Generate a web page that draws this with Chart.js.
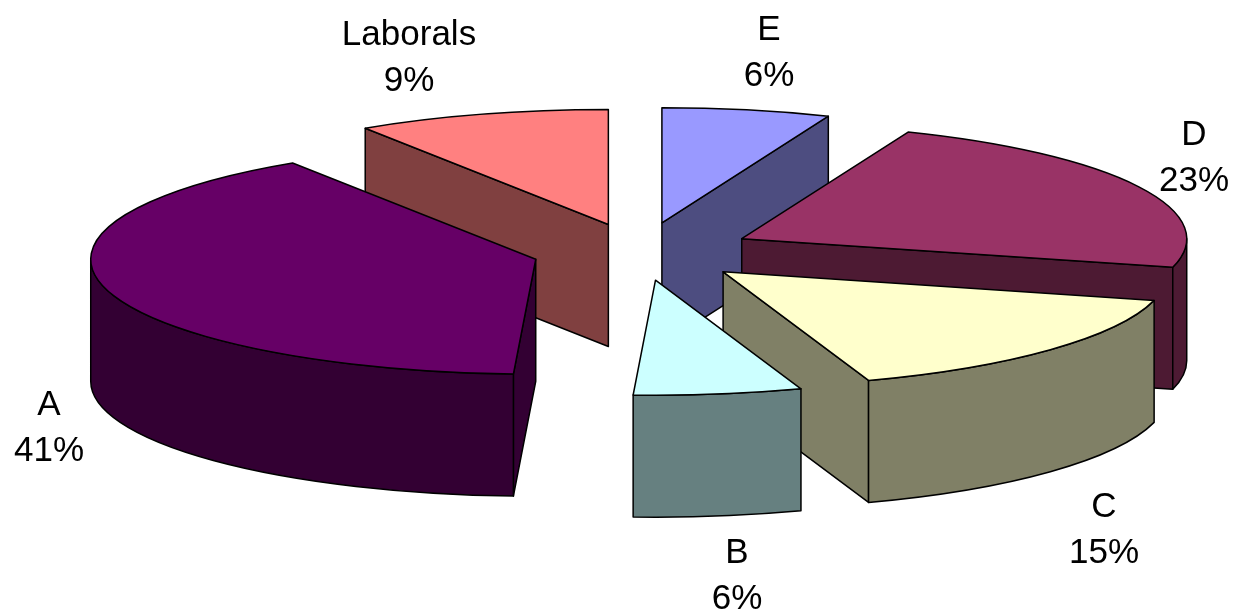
<!DOCTYPE html>
<html>
<head>
<meta charset="utf-8">
<script src="https://cdn.jsdelivr.net/npm/chart.js@4/dist/chart.umd.js"></script>
<style>
  html, body { margin: 0; padding: 0; background: #fff; }
  canvas { display: block; }
</style>
</head>
<body>
<canvas id="graph1" width="1236" height="616"></canvas>
<script>
// slices run clockwise from 12 o'clock, sizes as measured on the picture
const labels = ["E", "D", "C", "B", "A", "Laborals"];
const values = [6.1, 22.9, 15.7, 6.1, 40.0, 9.2];
const pct_labels = ["6%", "23%", "15%", "6%", "41%", "9%"];
const top_colors = ["#9999FF", "#993366", "#FFFFCC", "#CCFFFF", "#660066", "#FF8080"];
const wall_colors = ["#4D4D80", "#4D1A33", "#808066", "#668080", "#330033", "#804040"];
const explode = [115, 114, 113, 110, 108, 111];
const label_pos = [[769, 53], [1194, 158], [1104, 530], [737, 576], [49, 428], [409, 58]];

const squash = 0.2584;
const depth = 122;

function rim(ctx, cx, cy, r, from, to, ccw) {
  ctx.ellipse(cx, cy, r, r * squash, 0, from, to, ccw);
}

function wall_side(ctx, ax, ay, r, ang, color) {
  const px = ax + Math.cos(ang) * r;
  const py = ay + Math.sin(ang) * r * squash;
  ctx.beginPath();
  ctx.moveTo(ax, ay);
  ctx.lineTo(px, py);
  ctx.lineTo(px, py + depth);
  ctx.lineTo(ax, ay + depth);
  ctx.closePath();
  ctx.fillStyle = color;
  ctx.fill();
  ctx.stroke();
}

const pie3d = {
  id: "pie3d",
  beforeDatasetDraw(chart, args) {
    const ctx = chart.ctx;
    const arcs = args.meta.data;
    const mid = (a) => (a.startAngle + a.endAngle) / 2;

    // back slices first
    const order = arcs.map((a, i) => i).sort((i, j) => Math.sin(mid(arcs[i])) - Math.sin(mid(arcs[j])));

    ctx.save();
    ctx.strokeStyle = "#000";
    ctx.lineWidth = 1.5;
    ctx.lineJoin = "round";

    order.forEach(function(i) {
      const a = arcs[i];
      const r = a.outerRadius;
      const s = a.startAngle, e = a.endAngle;
      const ax = a.x + Math.cos(mid(a)) * explode[i];
      const ay = a.y + Math.sin(mid(a)) * explode[i] * squash;

      // radial walls that face the viewer
      if (Math.cos(e) > 0.001) wall_side(ctx, ax, ay, r, e, wall_colors[i]);
      if (Math.cos(s) < -0.001) wall_side(ctx, ax, ay, r, s, wall_colors[i]);

      // curved outer wall, only the front half shows
      const from = Math.max(s, 0), to = Math.min(e, Math.PI);
      if (to > from) {
        ctx.beginPath();
        rim(ctx, ax, ay, r, from, to, false);
        rim(ctx, ax, ay + depth, r, to, from, true);
        ctx.closePath();
        ctx.fillStyle = wall_colors[i];
        ctx.fill();
        ctx.stroke();
      }

      // top face is the chart's own arc, squashed
      ctx.save();
      ctx.translate(ax, ay);
      ctx.scale(1, squash);
      ctx.translate(-a.x, -a.y);
      a.draw(ctx);
      ctx.restore();

      ctx.beginPath();
      ctx.moveTo(ax, ay);
      rim(ctx, ax, ay, r, s, e, false);
      ctx.closePath();
      ctx.stroke();
    });

    ctx.fillStyle = "#000";
    ctx.font = "35px 'Liberation Sans'";
    ctx.textAlign = "center";
    ctx.textBaseline = "middle";
    labels.forEach(function(name, i) {
      ctx.fillText(name, label_pos[i][0], label_pos[i][1] - 23);
      ctx.fillText(pct_labels[i], label_pos[i][0], label_pos[i][1] + 23);
    });
    ctx.restore();
    return false;
  }
};

new Chart(document.getElementById("graph1"), {
  type: "pie",
  data: {
    labels: labels,
    datasets: [{
      data: values,
      backgroundColor: top_colors,
      borderWidth: 0
    }]
  },
  options: {
    responsive: false,
    animation: false,
    radius: 445,
    layout: { padding: { left: 44, bottom: 112 } },
    plugins: {
      legend: { display: false },
      tooltip: { enabled: false }
    }
  },
  plugins: [pie3d]
});
</script>
</body>
</html>
